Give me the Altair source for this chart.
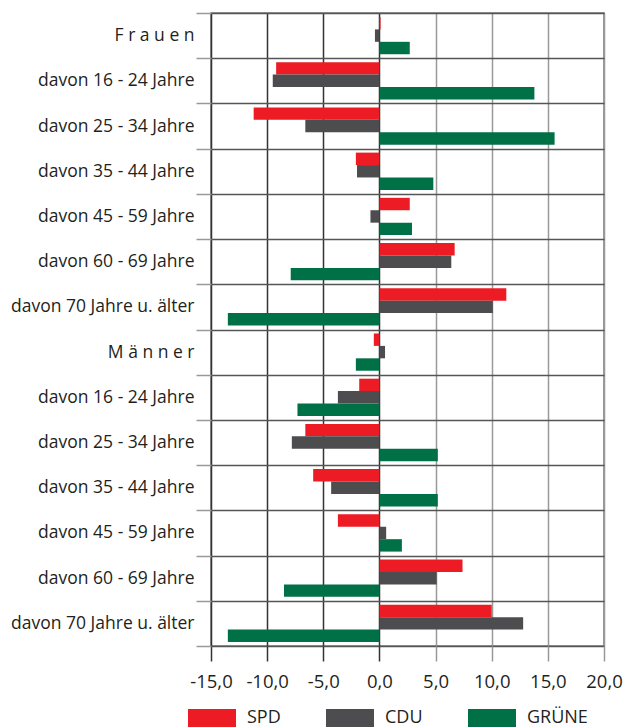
import altair as alt
import pandas as pd

# Row labels (women block, then men block)
groups = ["F r a u e n", "M ä n n e r"]
age_bands = [
    "davon 16 - 24 Jahre",
    "davon 25 - 34 Jahre",
    "davon 35 - 44 Jahre",
    "davon 45 - 59 Jahre",
    "davon 60 - 69 Jahre",
    "davon 70 Jahre u. älter",
]
row_labels = [groups[0]] + age_bands + [groups[1]] + age_bands

parties = ["SPD", "CDU", "GRÜNE"]
party_colors = ["#ED1C24", "#4D4D4F", "#007147"]

# Change in percentage points, one value per row
spd = [0.1, -9.2, -11.2, -2.1, 2.7, 6.7, 11.3,
       -0.5, -1.8, -6.6, -5.9, -3.7, 7.4, 10.0]
cdu = [-0.4, -9.5, -6.6, -2.0, -0.8, 6.4, 10.1,
       0.5, -3.7, -7.8, -4.3, 0.6, 5.1, 12.8]
gruene = [2.7, 13.8, 15.6, 4.8, 2.9, -7.9, -13.5,
          -2.1, -7.3, 5.2, 5.2, 2.0, -8.5, -13.5]

x_ticks = [-15, -10, -5, 0, 5, 10, 15, 20]

rows = []
for series, name in zip([spd, cdu, gruene], parties):
    for i, v in enumerate(series):
        rows.append({"row": i, "party": name, "value": v})
df = pd.DataFrame(rows)

label_array = "[" + ",".join("'" + s + "'" for s in row_labels) + "]"
FONT = "Open Sans, sans-serif"

chart = (
    alt.Chart(df)
    .mark_bar()
    .encode(
        x=alt.X(
            "value:Q",
            scale=alt.Scale(domain=[-15, 20], nice=False, zero=False),
            axis=alt.Axis(
                values=x_ticks,
                title=None,
                labelExpr="(datum.value < 0 ? '-' : '') + replace(format(abs(datum.value), '.1f'), '.', ',')",
                labelOverlap=False,
                labelFlush=False,
                grid=True,
                gridColor=alt.condition("datum.value <= 0", alt.value("#333333"), alt.value("#999999")),
                gridWidth=1.5,
                tickColor=alt.condition("datum.value <= 0", alt.value("#333333"), alt.value("#999999")),
                tickWidth=1.5,
                tickSize=15,
                domain=False,
                labelPadding=11,
                labelFontSize=18.5,
                labelFont=FONT,
                labelColor="#231F20",
            ),
        ),
        y=alt.Y(
            "row:O",
            scale=alt.Scale(paddingInner=0, paddingOuter=0),
            axis=alt.Axis(
                title=None,
                labelExpr=label_array + "[datum.value]",
                tickBand="extent",
                grid=True,
                gridColor="#555555",
                gridWidth=1.5,
                tickColor="#999999",
                tickWidth=1.5,
                tickSize=15,
                domain=False,
                labelPadding=2,
                labelFontSize=17.5,
                labelFont=FONT,
                labelColor="#231F20",
                labelLimit=300,
            ),
        ),
        yOffset=alt.YOffset(
            "party:N",
            sort=parties,
            scale=alt.Scale(paddingOuter=0.32, paddingInner=0),
        ),
        color=alt.Color(
            "party:N",
            sort=parties,
            scale=alt.Scale(domain=parties, range=party_colors),
            legend=alt.Legend(
                title=None,
                orient="none",
                direction="horizontal",
                legendX=-23,
                legendY=681,
                symbolType="M-1,-0.375H1V0.375H-1Z",
                symbolSize=2304,
                symbolStrokeWidth=0,
                symbolOpacity=1,
                labelFontSize=18,
                labelFont=FONT,
                labelColor="#231F20",
                labelOffset=11,
                columnPadding=45,
            ),
        ),
    )
    .properties(
        width=393,
        height=633,
        autosize=alt.AutoSizeParams(type="none"),
        padding={"left": 211, "top": 13, "right": 19, "bottom": 82},
        background="white",
    )
    .configure_view(stroke="#777777", strokeWidth=1.5)
)

chart.save("out.html", embed_options={"renderer": "svg", "actions": False})
